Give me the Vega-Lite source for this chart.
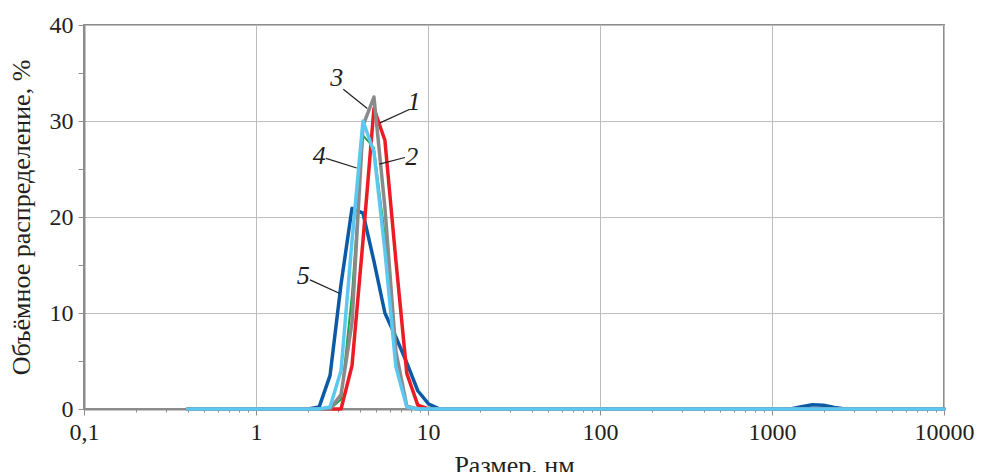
{
  "$schema": "https://vega.github.io/schema/vega-lite/v6.json",
  "autosize": {"type": "none"},
  "padding": {"left": 84, "top": 25, "right": 37, "bottom": 63},
  "width": 860,
  "height": 384,
  "background": "white",
  "datasets": {
    "dist": [
      {"size": 0.4, "s1": 0, "s2": 0, "s3": 0, "s4": 0, "s5": 0},
      {"size": 0.4632, "s1": 0, "s2": 0, "s3": 0, "s4": 0, "s5": 0},
      {"size": 0.5365, "s1": 0, "s2": 0, "s3": 0, "s4": 0, "s5": 0},
      {"size": 0.6213, "s1": 0, "s2": 0, "s3": 0, "s4": 0, "s5": 0},
      {"size": 0.7195, "s1": 0, "s2": 0, "s3": 0, "s4": 0, "s5": 0},
      {"size": 0.8332, "s1": 0, "s2": 0, "s3": 0, "s4": 0, "s5": 0},
      {"size": 0.9649, "s1": 0, "s2": 0, "s3": 0, "s4": 0, "s5": 0},
      {"size": 1.117, "s1": 0, "s2": 0, "s3": 0, "s4": 0, "s5": 0},
      {"size": 1.294, "s1": 0, "s2": 0, "s3": 0, "s4": 0, "s5": 0},
      {"size": 1.499, "s1": 0, "s2": 0, "s3": 0, "s4": 0, "s5": 0},
      {"size": 1.736, "s1": 0, "s2": 0, "s3": 0, "s4": 0, "s5": 0},
      {"size": 2.01, "s1": 0, "s2": 0, "s3": 0, "s4": 0, "s5": 0},
      {"size": 2.328, "s1": 0, "s2": 0, "s3": 0, "s4": 0, "s5": 0.2},
      {"size": 2.696, "s1": 0, "s2": 0, "s3": 0, "s4": 0.2, "s5": 3.5},
      {"size": 3.122, "s1": 0, "s2": 1.0, "s3": 1.5, "s4": 4.0, "s5": 13.0},
      {"size": 3.615, "s1": 4.5, "s2": 12.0, "s3": 9.0, "s4": 17.5, "s5": 20.9},
      {"size": 4.187, "s1": 17.5, "s2": 28.5, "s3": 29.5, "s4": 30.0, "s5": 20.4},
      {"size": 4.849, "s1": 31.3, "s2": 27.2, "s3": 32.5, "s4": 26.8, "s5": 15.4},
      {"size": 5.615, "s1": 28.0, "s2": 18.0, "s3": 21.0, "s4": 16.5, "s5": 10.0},
      {"size": 6.503, "s1": 15.5, "s2": 5.0, "s3": 6.0, "s4": 4.4, "s5": 7.5},
      {"size": 7.531, "s1": 3.7, "s2": 0.3, "s3": 0.3, "s4": 0.2, "s5": 4.8},
      {"size": 8.721, "s1": 0.4, "s2": 0, "s3": 0, "s4": 0, "s5": 1.9},
      {"size": 10.1, "s1": 0, "s2": 0, "s3": 0, "s4": 0, "s5": 0.5},
      {"size": 11.7, "s1": 0, "s2": 0, "s3": 0, "s4": 0, "s5": 0},
      {"size": 13.54, "s1": 0, "s2": 0, "s3": 0, "s4": 0, "s5": 0},
      {"size": 15.69, "s1": 0, "s2": 0, "s3": 0, "s4": 0, "s5": 0},
      {"size": 18.17, "s1": 0, "s2": 0, "s3": 0, "s4": 0, "s5": 0},
      {"size": 21.04, "s1": 0, "s2": 0, "s3": 0, "s4": 0, "s5": 0},
      {"size": 24.36, "s1": 0, "s2": 0, "s3": 0, "s4": 0, "s5": 0},
      {"size": 28.21, "s1": 0, "s2": 0, "s3": 0, "s4": 0, "s5": 0},
      {"size": 32.67, "s1": 0, "s2": 0, "s3": 0, "s4": 0, "s5": 0},
      {"size": 37.84, "s1": 0, "s2": 0, "s3": 0, "s4": 0, "s5": 0},
      {"size": 43.82, "s1": 0, "s2": 0, "s3": 0, "s4": 0, "s5": 0},
      {"size": 50.75, "s1": 0, "s2": 0, "s3": 0, "s4": 0, "s5": 0},
      {"size": 58.77, "s1": 0, "s2": 0, "s3": 0, "s4": 0, "s5": 0},
      {"size": 68.06, "s1": 0, "s2": 0, "s3": 0, "s4": 0, "s5": 0},
      {"size": 78.82, "s1": 0, "s2": 0, "s3": 0, "s4": 0, "s5": 0},
      {"size": 91.28, "s1": 0, "s2": 0, "s3": 0, "s4": 0, "s5": 0},
      {"size": 105.7, "s1": 0, "s2": 0, "s3": 0, "s4": 0, "s5": 0},
      {"size": 122.4, "s1": 0, "s2": 0, "s3": 0, "s4": 0, "s5": 0},
      {"size": 141.8, "s1": 0, "s2": 0, "s3": 0, "s4": 0, "s5": 0},
      {"size": 164.2, "s1": 0, "s2": 0, "s3": 0, "s4": 0, "s5": 0},
      {"size": 190.1, "s1": 0, "s2": 0, "s3": 0, "s4": 0, "s5": 0},
      {"size": 220.2, "s1": 0, "s2": 0, "s3": 0, "s4": 0, "s5": 0},
      {"size": 255.0, "s1": 0, "s2": 0, "s3": 0, "s4": 0, "s5": 0},
      {"size": 295.3, "s1": 0, "s2": 0, "s3": 0, "s4": 0, "s5": 0},
      {"size": 342.0, "s1": 0, "s2": 0, "s3": 0, "s4": 0, "s5": 0},
      {"size": 396.1, "s1": 0, "s2": 0, "s3": 0, "s4": 0, "s5": 0},
      {"size": 458.7, "s1": 0, "s2": 0, "s3": 0, "s4": 0, "s5": 0},
      {"size": 531.2, "s1": 0, "s2": 0, "s3": 0, "s4": 0, "s5": 0},
      {"size": 615.1, "s1": 0, "s2": 0, "s3": 0, "s4": 0, "s5": 0},
      {"size": 712.4, "s1": 0, "s2": 0, "s3": 0, "s4": 0, "s5": 0},
      {"size": 825.0, "s1": 0, "s2": 0, "s3": 0, "s4": 0, "s5": 0},
      {"size": 955.4, "s1": 0, "s2": 0, "s3": 0, "s4": 0, "s5": 0},
      {"size": 1106, "s1": 0, "s2": 0, "s3": 0, "s4": 0, "s5": 0},
      {"size": 1281, "s1": 0, "s2": 0, "s3": 0, "s4": 0, "s5": 0},
      {"size": 1484, "s1": 0, "s2": 0, "s3": 0, "s4": 0, "s5": 0.25},
      {"size": 1718, "s1": 0, "s2": 0, "s3": 0, "s4": 0, "s5": 0.45},
      {"size": 1990, "s1": 0, "s2": 0, "s3": 0, "s4": 0, "s5": 0.4},
      {"size": 2305, "s1": 0, "s2": 0, "s3": 0, "s4": 0, "s5": 0.15},
      {"size": 2669, "s1": 0, "s2": 0, "s3": 0, "s4": 0, "s5": 0},
      {"size": 3091, "s1": 0, "s2": 0, "s3": 0, "s4": 0, "s5": 0},
      {"size": 3580, "s1": 0, "s2": 0, "s3": 0, "s4": 0, "s5": 0},
      {"size": 4145, "s1": 0, "s2": 0, "s3": 0, "s4": 0, "s5": 0},
      {"size": 4801, "s1": 0, "s2": 0, "s3": 0, "s4": 0, "s5": 0},
      {"size": 5560, "s1": 0, "s2": 0, "s3": 0, "s4": 0, "s5": 0},
      {"size": 6439, "s1": 0, "s2": 0, "s3": 0, "s4": 0, "s5": 0},
      {"size": 7456, "s1": 0, "s2": 0, "s3": 0, "s4": 0, "s5": 0},
      {"size": 8635, "s1": 0, "s2": 0, "s3": 0, "s4": 0, "s5": 0},
      {"size": 10000, "s1": 0, "s2": 0, "s3": 0, "s4": 0, "s5": 0}
    ],
    "labels": [
      {"x": 2.946, "y": 34.45, "text": "3"},
      {"x": 8.29, "y": 32.0, "text": "1"},
      {"x": 2.333, "y": 26.35, "text": "4"},
      {"x": 8.04, "y": 26.3, "text": "2"},
      {"x": 1.884, "y": 13.85, "text": "5"}
    ],
    "leaders": [
      {"x": 3.218, "y": 33.3, "x2": 4.437, "y2": 31.3},
      {"x": 7.785, "y": 31.2, "x2": 5.259, "y2": 29.8},
      {"x": 2.553, "y": 26.1, "x2": 3.851, "y2": 25.1},
      {"x": 7.348, "y": 26.2, "x2": 5.211, "y2": 25.5},
      {"x": 2.061, "y": 13.45, "x2": 3.05, "y2": 12.05}
    ]
  },
  "layer": [
    {
      "data": {"name": "dist"},
      "transform": [
        {"fold": ["s5", "s1", "s2", "s3", "s4"], "as": ["series", "value"]}
      ],
      "mark": {"type": "line", "strokeJoin": "round", "strokeCap": "round"},
      "encoding": {
        "x": {
          "field": "size",
          "type": "quantitative",
          "scale": {"type": "log", "domain": [0.1, 10000], "nice": false},
          "axis": {
            "title": "Размер, нм",
            "values": [0.1, 0.2, 0.3, 0.4, 0.5, 0.6, 0.7, 0.8, 0.9, 1, 2, 3, 4, 5, 6, 7, 8, 9, 10, 20, 30, 40, 50, 60, 70, 80, 90, 100, 200, 300, 400, 500, 600, 700, 800, 900, 1000, 2000, 3000, 4000, 5000, 6000, 7000, 8000, 9000, 10000],
            "labelExpr": "datum.value == 0.1 ? '0,1' : (indexof([1, 10, 100, 1000, 10000], datum.value) >= 0 ? format(datum.value, 'd') : '')",
            "labelOverlap": false,
            "labelFlush": false,
            "tickSize": {"condition": {"test": "indexof([0.1, 1, 10, 100, 1000, 10000], datum.value) >= 0", "value": 6}, "value": 3},
            "gridOpacity": {"condition": {"test": "indexof([0.1, 1, 10, 100, 1000, 10000], datum.value) >= 0", "value": 1}, "value": 0},
            "labelPadding": 5,
            "titlePadding": 8
          }
        },
        "y": {
          "field": "value",
          "type": "quantitative",
          "scale": {"domain": [0, 40], "nice": false},
          "axis": {
            "title": "Объёмное распределение, %",
            "values": [0, 5, 10, 15, 20, 25, 30, 35, 40],
            "labelExpr": "datum.value % 10 == 0 ? datum.label : ''",
            "gridOpacity": {"condition": {"test": "datum.value % 10 == 0", "value": 1}, "value": 0},
            "tickSize": 6,
            "labelPadding": 5,
            "titlePadding": 15
          }
        },
        "color": {
          "field": "series",
          "type": "nominal",
          "scale": {"domain": ["s5", "s1", "s2", "s3", "s4"], "range": ["#0b5aa6", "#ec1c24", "#21a04a", "#8a8a8a", "#5cc8ef"]},
          "legend": null
        },
        "strokeWidth": {"condition": {"test": "datum.series === 's2'", "value": 2}, "value": 3.5}
      }
    },
    {
      "data": {"name": "leaders"},
      "mark": {"type": "rule", "color": "#231f20", "strokeWidth": 1.2},
      "encoding": {
        "x": {"field": "x", "type": "quantitative"},
        "x2": {"field": "x2"},
        "y": {"field": "y", "type": "quantitative"},
        "y2": {"field": "y2"}
      }
    },
    {
      "data": {"name": "labels"},
      "mark": {"type": "text", "font": "Liberation Serif", "fontStyle": "italic", "fontSize": 26, "color": "#231f20", "align": "center", "baseline": "middle"},
      "encoding": {
        "x": {"field": "x", "type": "quantitative"},
        "y": {"field": "y", "type": "quantitative"},
        "text": {"field": "text"}
      }
    }
  ],
  "config": {
    "view": {"stroke": "#8c8c8c", "strokeWidth": 2},
    "axis": {
      "labelFont": "Liberation Serif",
      "titleFont": "Liberation Serif",
      "labelFontSize": 24,
      "titleFontSize": 26,
      "titleFontWeight": "normal",
      "labelColor": "#231f20",
      "titleColor": "#231f20",
      "domainColor": "#8c8c8c",
      "domainWidth": 2,
      "tickColor": "#8c8c8c",
      "tickWidth": 1,
      "gridColor": "#bdbdbd",
      "gridWidth": 1
    }
  }
}
